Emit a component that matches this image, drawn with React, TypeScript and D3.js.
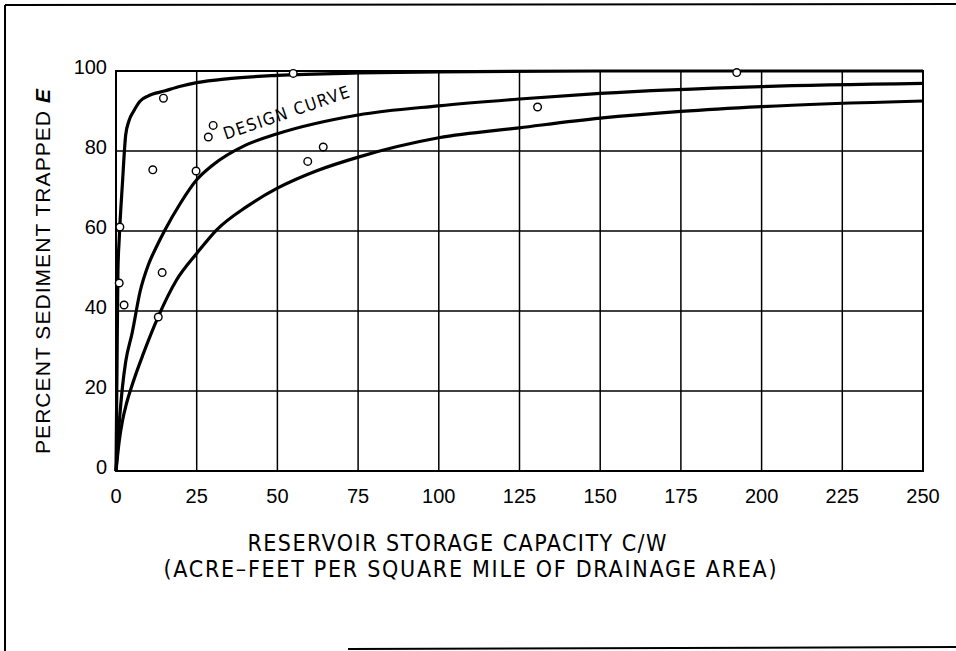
import React from "react";
import * as d3 from "d3";

const width = 956;
const height = 651;
const margin = { top: 71, right: 33, bottom: 180, left: 116 };

const xTicks = [0, 25, 50, 75, 100, 125, 150, 175, 200, 225, 250];
const yTicks = [0, 20, 40, 60, 80, 100];

// envelope curves: [C/W, percent trapped]
const upperCurve: [number, number][] = [
  [0, 0], [0.3, 25], [0.6, 50], [1, 58], [2, 72], [3, 84], [4, 87.5], [5.5, 90],
  [7.5, 92.5], [10, 93.8], [15, 95], [20, 96.2], [25, 97.1], [35, 98.1], [50, 98.9],
  [75, 99.5], [100, 99.8], [150, 100], [250, 100]
];
const designCurve: [number, number][] = [
  [0, 0], [1, 12], [2, 21], [3, 27.3], [5, 34.5], [7.5, 45], [10, 51.5], [12.5, 56],
  [15, 60], [20, 67], [25, 72.8], [30, 76.5], [40, 81.4], [50, 84.3],
  [75, 89], [100, 91.3], [125, 93], [150, 94.4], [200, 96.1], [250, 96.9]
];
const lowerCurve: [number, number][] = [
  [0, 0], [1, 7.5], [2, 12.5], [3.3, 17], [5, 21.5], [8.5, 29.4], [13.1, 38.6],
  [18.8, 47.8], [25, 54.4], [31.2, 60.3], [40.5, 66.1], [50, 70.7], [62, 75],
  [75.6, 78.6], [100, 83.3], [125, 85.8], [150, 88.2], [175, 89.9], [200, 91.1], [250, 92.5]
];

// observed reservoirs
const obsX = [1.0, 1.2, 2.5, 11.4, 14.7, 14.3, 13.1, 24.8, 28.6, 30.1, 59.4, 64.2, 54.9, 130.6, 192.3];
const obsY = [47, 61, 41.5, 75.3, 93.2, 49.6, 38.5, 75, 83.5, 86.4, 77.4, 81, 99.4, 91, 99.6];

const narrow = "'DejaVu Sans Condensed', 'Liberation Sans Narrow', sans-serif";
const sans = "'Liberation Sans', Arial, sans-serif";

export default function App() {
  const x = d3.scaleLinear().domain([0, 250]).range([margin.left, width - margin.right]);
  const y = d3.scaleLinear().domain([0, 100]).range([height - margin.bottom, margin.top]);

  const line = d3
    .line<[number, number]>()
    .x(d => x(d[0]))
    .y(d => y(d[1]))
    .curve(d3.curveMonotoneX);

  const x0 = x(0), x1 = x(250), y0 = y(0), y1 = y(100);

  return (
    <svg
      width={width}
      height={height}
      style={{ position: "absolute", left: 0, top: 0, background: "#fff" }}
    >
      {/* outer frame of the scanned figure */}
      <line x1={5} y1={5} x2={956} y2={4} stroke="#000" strokeWidth={2} />
      <line x1={5} y1={5} x2={5} y2={651} stroke="#000" strokeWidth={2} />
      <line x1={348} y1={649} x2={956} y2={647} stroke="#000" strokeWidth={2} />

      {/* grid */}
      {xTicks.map(t => (
        <line key={"gx" + t} x1={x(t)} x2={x(t)} y1={y1} y2={y0} stroke="#000" strokeWidth={1.5} />
      ))}
      {yTicks.map(t => (
        <line key={"gy" + t} x1={x0} x2={x1} y1={y(t)} y2={y(t)} stroke="#000" strokeWidth={1.5} />
      ))}
      <rect x={x0} y={y1} width={x1 - x0} height={y0 - y1} fill="none" stroke="#000" strokeWidth={2} />

      {/* curves */}
      {[upperCurve, designCurve, lowerCurve].map((c, i) => (
        <path key={"c" + i} d={line(c) || ""} fill="none" stroke="#000" strokeWidth={3.2} strokeLinejoin="round" />
      ))}

      {/* observations */}
      {obsX.map((v, i) => (
        <circle key={"p" + i} cx={x(v)} cy={y(obsY[i])} r={3.8} fill="#fff" stroke="#000" strokeWidth={1.4} />
      ))}

      <text
        transform={`translate(${x(34)}, ${y(82.8)}) rotate(-19)`}
        fontFamily={narrow}
        fontSize={17}
        textLength={132}
        lengthAdjust="spacing"
      >
        DESIGN CURVE
      </text>

      {/* tick labels */}
      {xTicks.map(t => (
        <text key={"tx" + t} x={x(t)} y={y0 + 32} textAnchor="middle" fontFamily={sans} fontSize={20}>
          {t}
        </text>
      ))}
      {yTicks.map(t => (
        <text key={"ty" + t} x={x0 - 9} y={y(t) + 3} textAnchor="end" fontFamily={sans} fontSize={20}>
          {t}
        </text>
      ))}

      {/* axis titles */}
      <text
        transform={`translate(50, ${(88 + 455) / 2}) rotate(-90)`}
        textAnchor="middle"
        fontFamily={sans}
        fontSize={21}
        textLength={365}
        lengthAdjust="spacing"
      >
        PERCENT SEDIMENT TRAPPED <tspan fontStyle="italic" fontWeight="bold">E</tspan>
      </text>
      <text x={457} y={551} textAnchor="middle" fontFamily={narrow} fontSize={23} textLength={419} lengthAdjust="spacing">
        RESERVOIR STORAGE CAPACITY C/W
      </text>
      <text x={470} y={577} textAnchor="middle" fontFamily={narrow} fontSize={23} textLength={613} lengthAdjust="spacing">
        (ACRE–FEET PER SQUARE MILE OF DRAINAGE AREA)
      </text>
    </svg>
  );
}
